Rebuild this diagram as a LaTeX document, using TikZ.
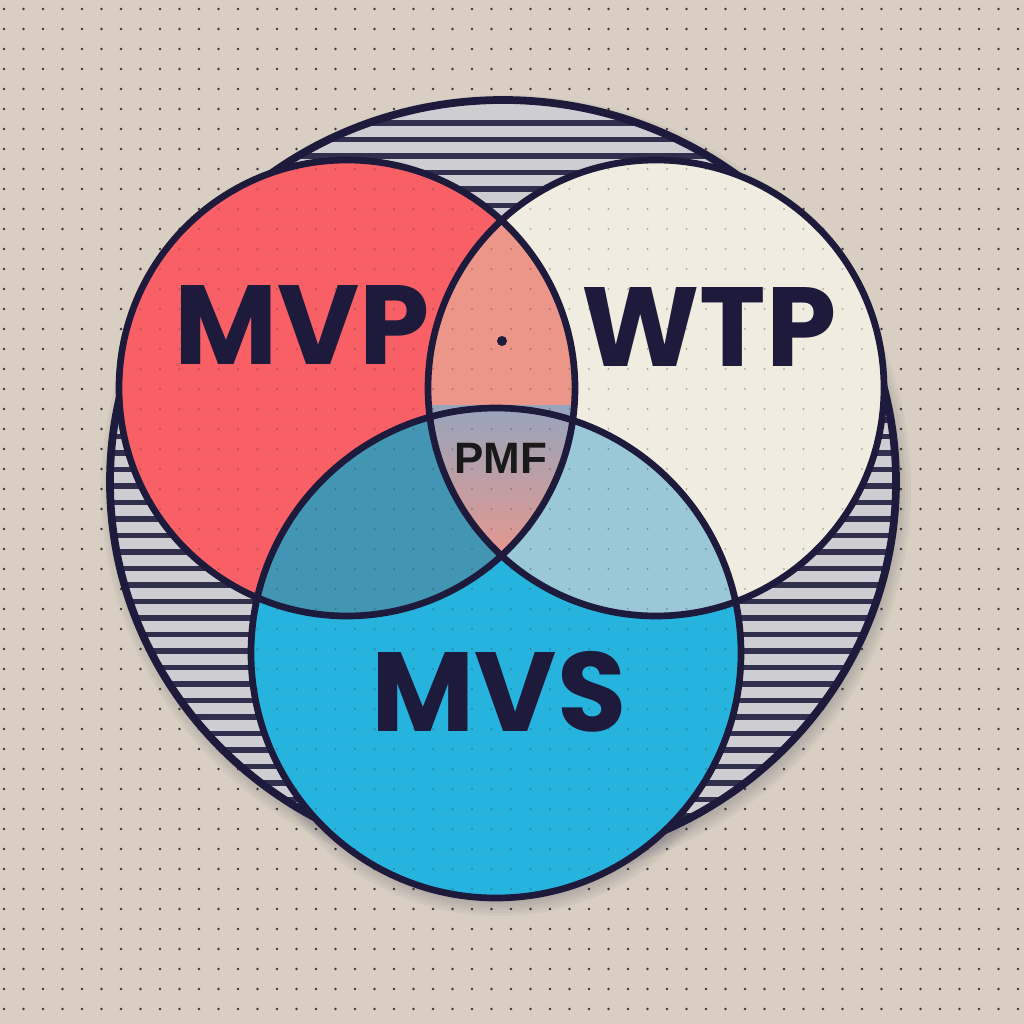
\documentclass[tikz,border=0pt]{standalone}
\usepackage{fontspec}
\setmainfont{Poppins}
\newfontfamily\pmffont{Liberation Sans}
\usepackage{xcolor}
\definecolor{vnbg}{RGB}{216,207,194}
\definecolor{vndot}{RGB}{62,56,54}
\definecolor{vnnavy}{RGB}{30,26,60}
\definecolor{vnred}{RGB}{248,96,102}
\definecolor{vnsalmon}{RGB}{236,150,138}
\definecolor{vncream}{RGB}{241,236,224}
\definecolor{vnblue}{RGB}{38,180,222}
\definecolor{vnteal}{RGB}{66,150,180}
\definecolor{vnpale}{RGB}{155,200,215}
\definecolor{vncore}{RGB}{150,165,188}
\definecolor{vnhatch}{RGB}{206,206,210}
\definecolor{vnstripe}{RGB}{48,48,78}
\usetikzlibrary{positioning}

\tikzset{
  ring/.style={draw=vnnavy, line width=1.9pt},
  biglabel/.style={font=\fontsize{32}{34}\selectfont\bfseries, text=vnnavy, inner sep=0pt},
}

\begin{document}
\begin{tikzpicture}[x=0.01cm, y=-0.01cm]

% Paper with dot grid
\fill[vnbg] (0,0) rectangle (1024,1024);
\useasboundingbox (0,0) rectangle (1024,1024);
\foreach \i in {0,...,52} {
  \foreach \j in {0,...,51} {
    \fill[vndot] (4+\i*19.5,9+\j*20) circle [radius=1.4];
  }
}

% Circle centres
\coordinate (cmvp) at (347,388);
\coordinate (cwtp) at (656,388);
\coordinate (cmvs) at (496,653);
\coordinate (couter) at (503,482);

% soft shadow under the rings
\foreach \s in {0,...,4} {
  \fill[vnnavy, opacity=0.04] ([shift={(3,7)}]couter) ellipse [x radius=393+3*\s, y radius=382+3*\s];
  \fill[vnnavy, opacity=0.04] ([shift={(2,6)}]cmvs) circle [radius=245+3*\s];
}

% --- Outer hatched ring ---
\fill[vnhatch] (couter) ellipse [x radius=393, y radius=382];
\begin{scope}
  \clip (couter) ellipse [x radius=393, y radius=382];
  \foreach \k in {0,...,45} {
    \fill[vnstripe] (100,120+\k*16.5) rectangle (910,125.5+\k*16.5);
  }
\end{scope}
\draw[ring, line width=2.2pt] (couter) ellipse [x radius=393, y radius=382];

% --- Three sets ---
\fill[vnred] (cmvp) circle [radius=228];
\fill[vncream] (cwtp) circle [radius=228];
\fill[vnblue] (cmvs) circle [radius=245];

% Overlaps
\begin{scope}
  \clip (cmvp) circle [radius=228];
  \fill[vnsalmon] (cwtp) circle [radius=228];
  \fill[vnteal] (cmvs) circle [radius=245];
\end{scope}
\begin{scope}
  \clip (cwtp) circle [radius=228];
  \fill[vnpale] (cmvs) circle [radius=245];
  \clip (cmvp) circle [radius=228];
  \shade[top color=vncore, middle color=vncore, bottom color=vnsalmon]
    (420,405) rectangle (580,570);
\end{scope}

% Dots showing through the sets
\begin{scope}
  \clip (cmvp) circle [radius=228] (cwtp) circle [radius=228] (cmvs) circle [radius=245];
  \foreach \i in {5,...,47} {
    \foreach \j in {7,...,45} {
      \fill[vndot, opacity=0.35] (4+\i*19.5,9+\j*20) circle [radius=1.2];
    }
  }
\end{scope}

% Outlines
\draw[ring] (cmvp) circle [radius=228];
\draw[ring] (cwtp) circle [radius=228];
\draw[ring] (cmvs) circle [radius=245];

% Labels
\node[biglabel] (mvp) at (302,325) {MVP};
\node[biglabel] (wtp) at (709,327) {WTP};
\node[biglabel] (mvs) at (499,692) {MVS};
\node[font=\pmffont\fontsize{12.5}{14}\selectfont\bfseries, text=black!90, inner sep=0pt]
  (pmf) at (501,458) {PMF};
\fill[vnnavy] (502,341) circle [radius=5];

\end{tikzpicture}
\end{document}
